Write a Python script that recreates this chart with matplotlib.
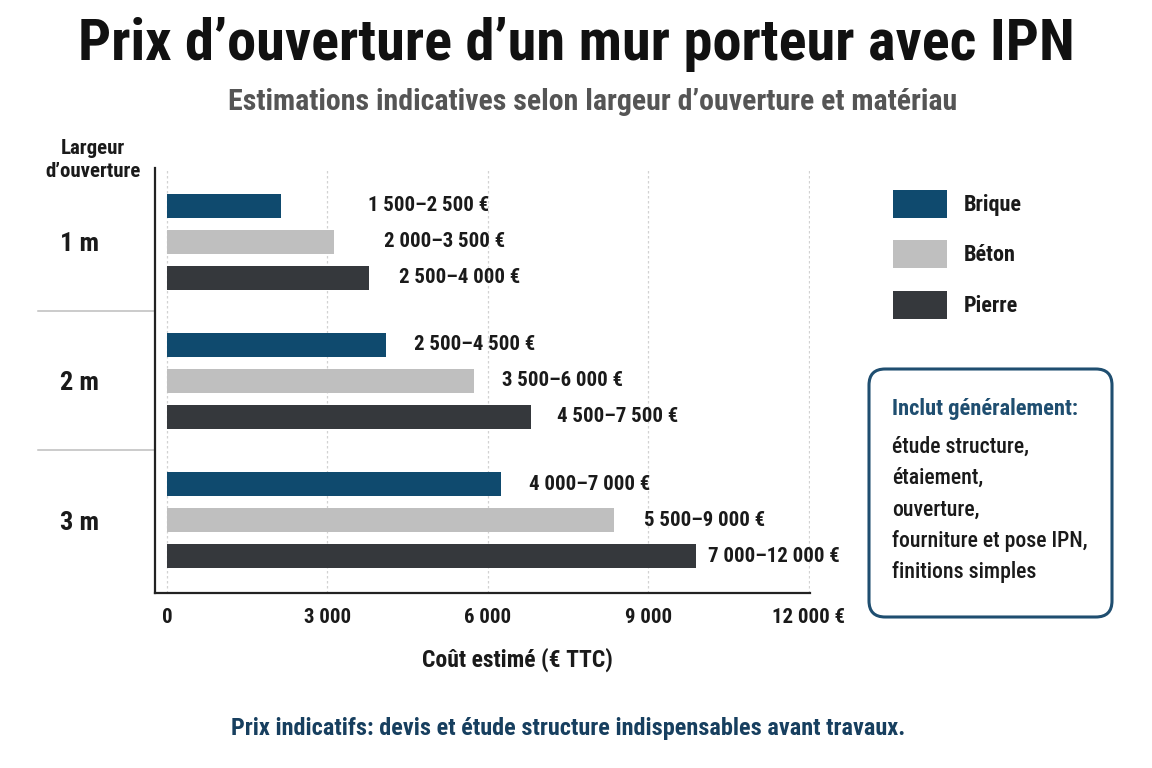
import matplotlib
matplotlib.use("Agg")
import matplotlib.pyplot as plt
from matplotlib import font_manager
from matplotlib.patches import FancyBboxPatch, Rectangle
from matplotlib.lines import Line2D

# ---------------- data ----------------
widths = ["1 m", "2 m", "3 m"]
materials = ["Brique", "Béton", "Pierre"]
# bar lengths as drawn (€)
brique = [2130, 4090, 6240]
beton = [3120, 5740, 8360]
pierre = [3780, 6800, 9890]
brique_labels = ["1 500–2 500 €", "2 500–4 500 €", "4 000–7 000 €"]
beton_labels = ["2 000–3 500 €", "3 500–6 000 €", "5 500–9 000 €"]
pierre_labels = ["2 500–4 000 €", "4 500–7 500 €", "7 000–12 000 €"]
xticks = [0, 3000, 6000, 9000, 12000]
xtick_labels = ["0", "3 000", "6 000", "9 000", "12 000 €"]
included = ["étude structure,", "étaiement,", "ouverture,",
            "fourniture et pose IPN,", "finitions simples"]

# ---------------- fonts ----------------
names = {f.name for f in font_manager.fontManager.ttflist}
cond = None
for cand in ["Roboto Condensed", "Liberation Sans Narrow", "Open Sans Condensed",
             "Noto Sans Condensed", "Roboto"]:
    if cand in names:
        cond = cand
        break
if cond is None:
    cond = "DejaVu Sans"
plt.rcParams['font.family'] = [cond, "DejaVu Sans"]

colors = {"Brique": "#0f4a6e", "Béton": "#bfbfbf", "Pierre": "#35383c"}
navy = "#173f5f"
dark = "#1a1a1a"

W, H = 1152, 768
fig = plt.figure(figsize=(W / 100, H / 100), dpi=100)
fig.patch.set_facecolor("white")

def fx(px):
    return px / W

def fy(py):
    return 1 - py / H

ax = fig.add_axes([fx(155), fy(593), fx(810) - fx(155), fy(168) - fy(593)])

bar_h = 0.173
off = 0.259
series = [(brique, brique_labels, "Brique", -off),
          (beton, beton_labels, "Béton", 0.0),
          (pierre, pierre_labels, "Pierre", off)]
# horizontal label offsets (pixels from bar end)
label_pad = {"Brique": [87, 28, 28], "Béton": [50, 28, 30], "Pierre": [30, 26, 12]}

for vals, labs, name, dy in series:
    ys = [i + dy for i in range(len(widths))]
    ax.barh(ys, vals, height=bar_h, color=colors[name], zorder=3)
    for i, (v, lab) in enumerate(zip(vals, labs)):
        ax.annotate(lab, xy=(v, ys[i]), xytext=(label_pad[name][i] * 0.72, 0),
                    textcoords="offset points", ha="left", va="center",
                    fontsize=15, fontweight="bold", color=dark, zorder=4)

ax.set_xlim(-224, 12019)
ax.set_ylim(2.525, -0.532)
ax.set_xticks(xticks)
ax.set_xticklabels(xtick_labels, fontsize=15, fontweight="bold", color=dark)
ax.tick_params(axis="x", length=0, pad=11)
ax.set_yticks(range(len(widths)))
ax.set_yticklabels(widths, fontsize=19, fontweight="bold", color=dark)
ax.tick_params(axis="y", length=0, pad=40)
ax.grid(axis="x", linestyle=(0, (2, 2)), color="#d2d2d2", linewidth=0.9, zorder=0)
for s in ["top", "right"]:
    ax.spines[s].set_visible(False)
for s in ["left", "bottom"]:
    ax.spines[s].set_linewidth(1.6)
    ax.spines[s].set_color("#222222")

# group separators on the left
tr = ax.get_yaxis_transform()
for yb in [0.5, 1.5]:
    ax.add_line(Line2D([-0.1786, 0], [yb, yb], transform=tr, color="#bdbdbd",
                       linewidth=1.1, clip_on=False))

ax.set_xlabel("Coût estimé (€ TTC)", fontsize=17, fontweight="bold", color=dark)
ax.xaxis.set_label_coords(0.553, -0.129)

# titles
fig.text(0.5, fy(44), "Prix d’ouverture d’un mur porteur avec IPN",
         ha="center", va="center", fontsize=42, fontweight="black", color="#111111")
fig.text(fx(593), fy(102), "Estimations indicatives selon largeur d’ouverture et matériau",
         ha="center", va="center", fontsize=21.5, fontweight="bold", color="#555555")
fig.text(fx(93), fy(160), "Largeur\nd’ouverture", ha="center", va="center",
         fontsize=15, fontweight="bold", color=dark, linespacing=1.3)

# legend
for name, y0 in zip(materials, [190, 240, 291]):
    fig.patches.append(Rectangle((fx(893), fy(y0 + 28)), fx(947) - fx(893),
                                 fy(y0) - fy(y0 + 28), transform=fig.transFigure,
                                 facecolor=colors[name], edgecolor="none"))
    fig.text(fx(964), fy(y0 + 15), name, ha="left", va="center",
             fontsize=16, fontweight="bold", color=dark)

# included box
box = FancyBboxPatch((fx(869), fy(617)), fx(1112) - fx(869), fy(369) - fy(617),
                     boxstyle="round,pad=0,rounding_size=0.014",
                     transform=fig.transFigure, facecolor="white",
                     edgecolor="#1f4e70", linewidth=2.2, mutation_aspect=1.5)
fig.patches.append(box)
fig.text(fx(892), fy(409), "Inclut généralement:", ha="left", va="center",
         fontsize=16.2, fontweight="bold", color="#1f4e70")
for k, line in enumerate(included):
    fig.text(fx(892), fy(447 + 31.2 * k), line, ha="left", va="center",
             fontsize=15.7, fontweight="medium", color=dark)

fig.text(fx(568), fy(729),
         "Prix indicatifs: devis et étude structure indispensables avant travaux.",
         ha="center", va="center", fontsize=17.5, fontweight="bold", color=navy)

fig.savefig("out.png", dpi=100, facecolor="white")
